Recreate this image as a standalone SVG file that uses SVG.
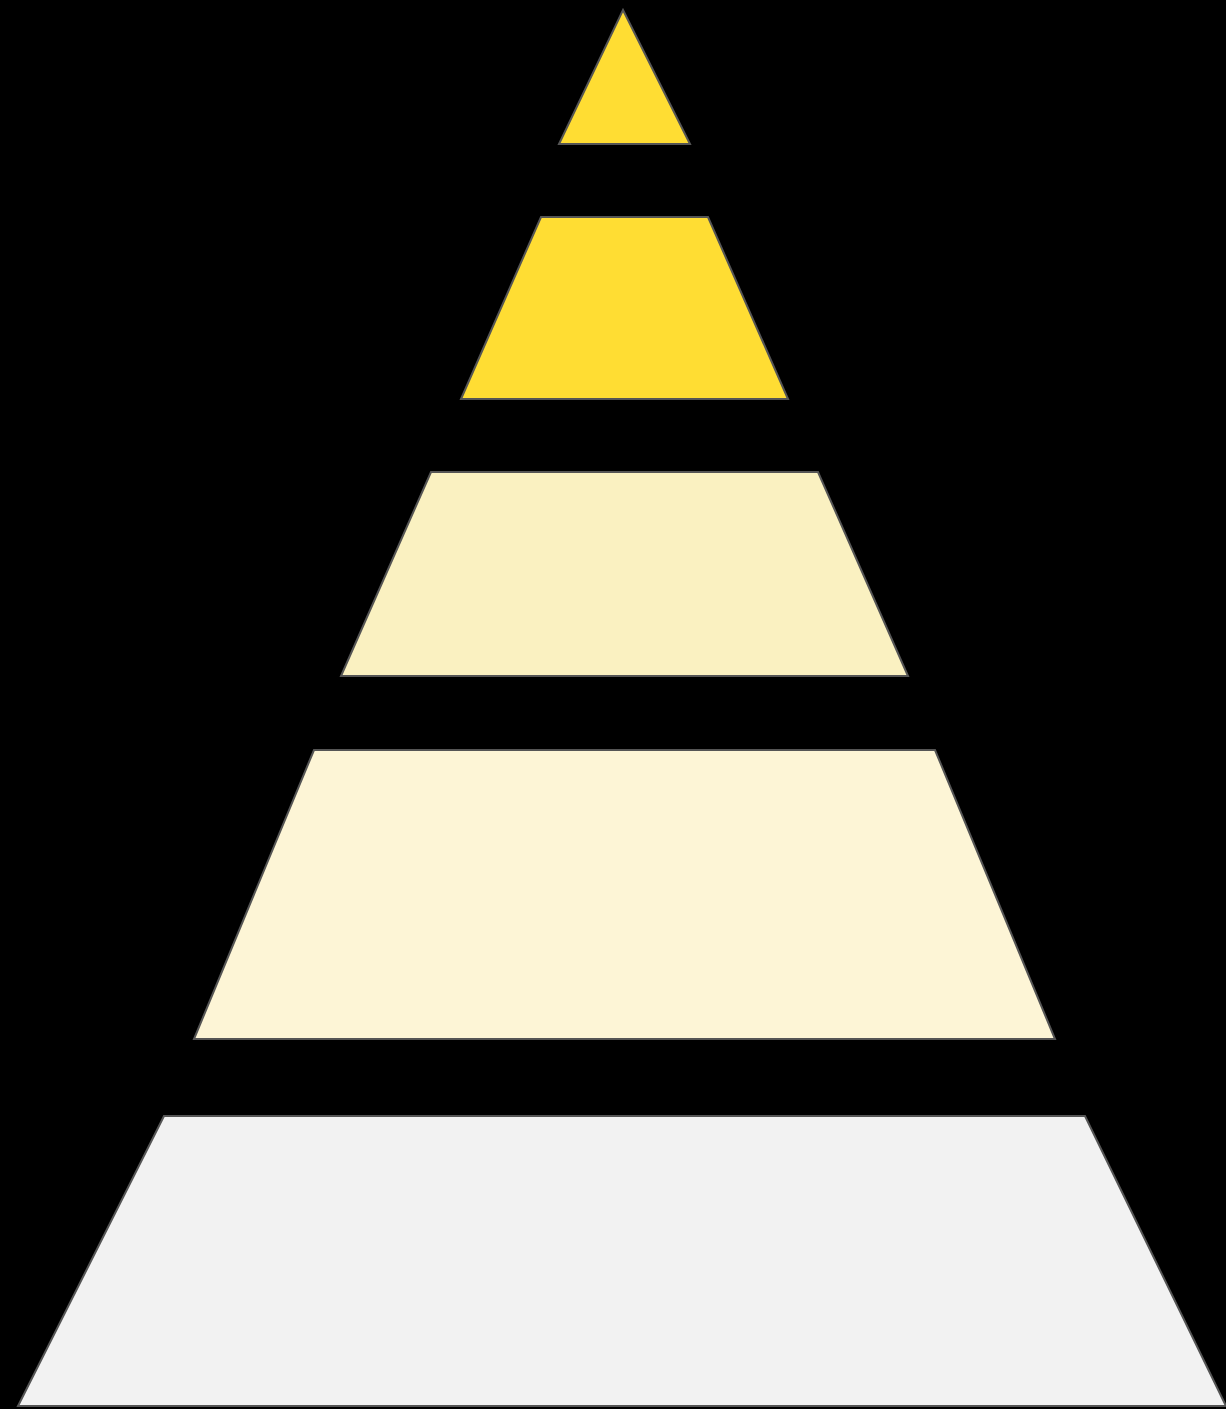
<svg xmlns="http://www.w3.org/2000/svg" width="1226" height="1409" viewBox="0 0 1226 1409">
<style>
.tier{stroke:#555555;stroke-width:2;stroke-linejoin:miter}
.t1{fill:#FFDD33}
.t2{fill:#FFDD33}
.t3{fill:#FAF1C1}
.t4{fill:#FDF5D6}
.t5{fill:#F2F2F2}
</style>
<rect x="0" y="0" width="1226" height="1409" fill="#000000"/>
<g id="tier1"><polygon class="tier t1" points="623,10 690,144 559,144"/></g>
<g id="tier2"><polygon class="tier t2" points="541,217 708,217 788,399 461,399"/></g>
<g id="tier3"><polygon class="tier t3" points="431,472 818,472 908,676 341,676"/></g>
<g id="tier4"><polygon class="tier t4" points="314,750 935,750 1055,1039 194,1039"/></g>
<g id="tier5"><polygon class="tier t5" points="164,1116 1085,1116 1226,1406 18,1406"/></g>
<g id="connectors"></g>
</svg>
